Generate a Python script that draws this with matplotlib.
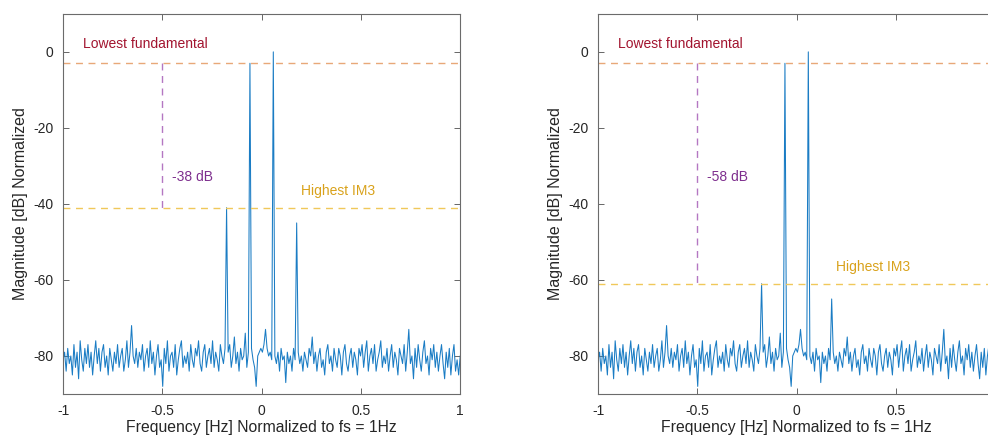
import numpy as np
import matplotlib
matplotlib.use("Agg")
import matplotlib.pyplot as plt

plt.rcParams["font.family"] = ["Liberation Sans", "DejaVu Sans"]

# noise floor (dB), evenly spaced from -1 to 1 Hz
noise_db = [
    -81, -79, -84, -78, -82, -80, -85, -77, -83, -79, -86, -76, -81, -84, -78, -82,
    -77, -83, -79, -85, -80, -76, -82, -78, -84, -79, -77, -83, -80, -85, -78, -81,
    -84, -79, -82, -77, -83, -80, -78, -84, -81, -76, -83, -79, -72, -80, -82, -78,
    -83, -79, -81, -77, -84, -80, -78, -83, -76, -82, -79, -85, -80, -77, -83, -81,
    -88, -78, -82, -76, -84, -80, -79, -83, -77, -85, -81, -78, -76, -83, -80, -82,
    -79, -84, -77, -81, -83, -78, -80, -76, -82, -84, -79, -77, -83, -80, -78, -82,
    -76, -83, -79, -81, -84, -77, -80, -82, -78, -85, -79, -77, -83, -80, -75, -82,
    -79, -84, -78, -81, -80, -74, -83, -79, -80, -78, -81, -83, -88, -80, -79, -78,
    -79, -77, -73, -78, -80, -79, -81, -78, -80, -82, -79, -84, -78, -81, -80, -87,
    -79, -82, -80, -84, -78, -81, -83, -79, -82, -80, -84, -79, -81, -83, -78, -80,
    -75, -82, -79, -84, -80, -78, -83, -81, -85, -79, -77, -82, -80, -84, -78, -81,
    -83, -78, -80, -85, -79, -77, -82, -84, -80, -78, -83, -79, -81, -85, -78, -80,
    -77, -83, -79, -76, -84, -80, -78, -82, -77, -84, -81, -79, -76, -83, -80, -82,
    -78, -84, -80, -77, -83, -79, -81, -85, -78, -80, -82, -77, -84, -79, -73, -82,
    -80, -86, -78, -83, -77, -81, -84, -79, -76, -82, -80, -85, -78, -81, -77, -83,
    -79, -84, -80, -77, -82, -86, -79, -83, -78, -85, -80, -77, -84, -81, -85, -80,
]

# tones: two fundamentals and the two IM3 products
fund_freq = [-0.06, 0.06]
fund_db = [-3, 0]
im3_freq = [-0.18, 0.18]
im3_db_left = [-41, -45]
im3_db_right = [-61, -65]

lowest_fund = -3
highest_im3_left = -41
highest_im3_right = -61

x_ticks = [-1, -0.5, 0, 0.5, 1]
x_labels_left = ["-1", "-0.5", "0", "0.5", "1"]
x_labels_right = ["-1", "-0.5", "0", "0.5", ""]  # "1" falls off the image
y_ticks = [-80, -60, -40, -20, 0]

BLUE = "#1a7cc4"
FUND_LINE = "#E8A878"
IM3_LINE = "#F0C85A"
PURPLE_LINE = "#B477C2"
RED_TXT = "#A2142F"
PURPLE_TXT = "#7E2F8E"
YELLOW_TXT = "#D9A21B"


def build_spectrum(im3_db):
    freq = np.linspace(-1, 1, len(noise_db))
    mag = np.array(noise_db, dtype=float)
    for f, m in zip(fund_freq + im3_freq, fund_db + im3_db):
        mag[np.argmin(np.abs(freq - f))] = m
    return freq, mag


def draw_panel(ax, im3_db, highest_im3, xlabels):
    freq, mag = build_spectrum(im3_db)
    ax.plot(freq, mag, color=BLUE, lw=0.75)

    ax.axhline(lowest_fund, color=FUND_LINE, ls=(0, (5, 4)), lw=1.0)
    ax.axhline(highest_im3, color=IM3_LINE, ls=(0, (5, 4)), lw=1.0)
    ax.plot([-0.5, -0.5], [lowest_fund, highest_im3], color=PURPLE_LINE,
            ls=(0, (5, 4)), lw=1.0)

    ax.text(-0.9, 2, "Lowest fundamental", color=RED_TXT, fontsize=10, va="center")
    ax.text(-0.45, -33, "%d dB" % (highest_im3 - lowest_fund), color=PURPLE_TXT,
            fontsize=10, va="center")
    ax.text(0.2, highest_im3 + 4.5, "Highest IM3", color=YELLOW_TXT, fontsize=10,
            va="center")

    ax.set_xlim(-1, 1)
    ax.set_ylim(-90, 10)
    ax.set_xticks(x_ticks)
    ax.set_xticklabels(xlabels)
    ax.set_yticks(y_ticks)
    ax.set_yticklabels([str(v) for v in y_ticks])
    ax.tick_params(direction="in", top=True, right=True, length=4, width=0.6,
                   colors="#4d4d4d", labelcolor="#262626", labelsize=10, pad=7)
    for s in ax.spines.values():
        s.set_color("#6b6b6b")
        s.set_linewidth(0.8)
    ax.set_xlabel("Frequency [Hz] Normalized to fs = 1Hz", fontsize=11.3,
                  color="#262626", labelpad=2)
    ax.set_ylabel("Magnitude [dB] Normalized", fontsize=11.5, color="#262626",
                  labelpad=4)


fig = plt.figure(figsize=(9.88, 4.41), dpi=100)
ax1 = fig.add_axes([0.0638, 0.1066, 0.402, 0.862])
ax2 = fig.add_axes([0.6053, 0.1066, 0.402, 0.862])  # runs off the right edge

draw_panel(ax1, im3_db_left, highest_im3_left, x_labels_left)
draw_panel(ax2, im3_db_right, highest_im3_right, x_labels_right)

fig.savefig("out.png", dpi=100)
